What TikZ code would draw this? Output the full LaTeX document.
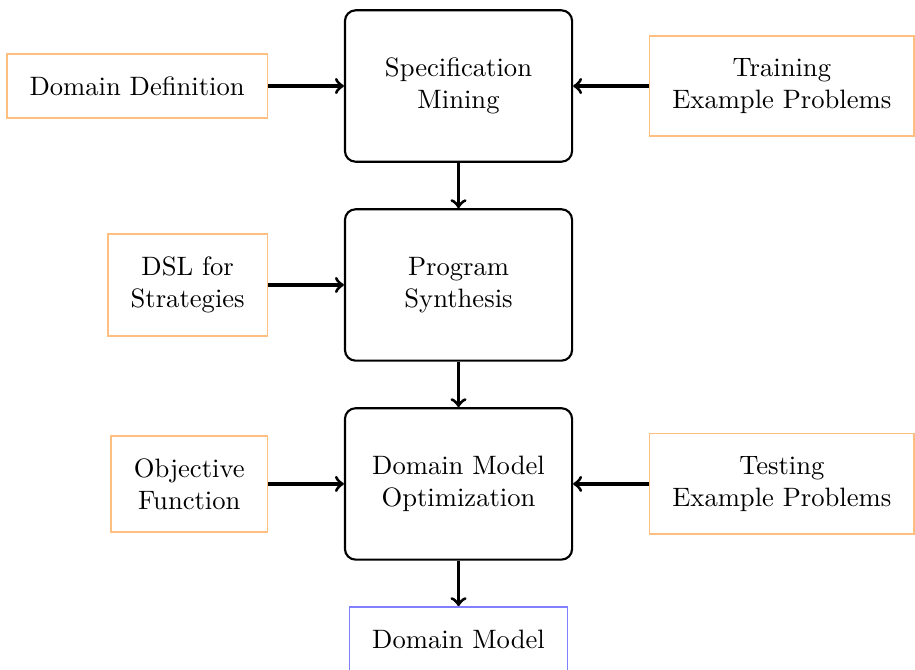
\documentclass[tikz,border=0pt]{standalone}
\usetikzlibrary{positioning}
\begin{document}
\begin{tikzpicture}[
  stage/.style={draw, thick, rounded corners, minimum width=3cm, minimum height=2cm, align=center},
  input/.style={draw=orange!50, semithick, inner sep=0.3cm, align=center},
  output/.style={draw=blue!50, semithick, inner sep=0.3cm, align=center},
  flow/.style={->, very thick}
]
  \useasboundingbox (-6.057,1.136) rectangle (6.030,-7.702);

  % main pipeline
  \node[stage] (spec) at (0,0) {Specification\\Mining};
  \node[stage, below=0.6cm of spec] (synth) {Program\\Synthesis};
  \node[stage, below=0.6cm of synth] (opt) {Domain Model\\Optimization};
  \node[output, below=0.6cm of opt] (model) {Domain Model};

  % inputs
  \node[input, left=1cm of spec] (def) {Domain Definition};
  \node[input, right=1cm of spec] (train) {Training\\Example Problems};
  \node[input, left=1cm of synth] (dsl) {DSL for\\Strategies};
  \node[input, left=1cm of opt] (obj) {Objective\\Function};
  \node[input, right=1cm of opt] (test) {Testing\\Example Problems};

  % connectors
  \draw[flow] (def) -- (spec);
  \draw[flow] (train) -- (spec);
  \draw[flow] (dsl) -- (synth);
  \draw[flow] (obj) -- (opt);
  \draw[flow] (test) -- (opt);
  \draw[flow] (spec) -- (synth);
  \draw[flow] (synth) -- (opt);
  \draw[flow] (opt) -- (model);
\end{tikzpicture}
\end{document}
